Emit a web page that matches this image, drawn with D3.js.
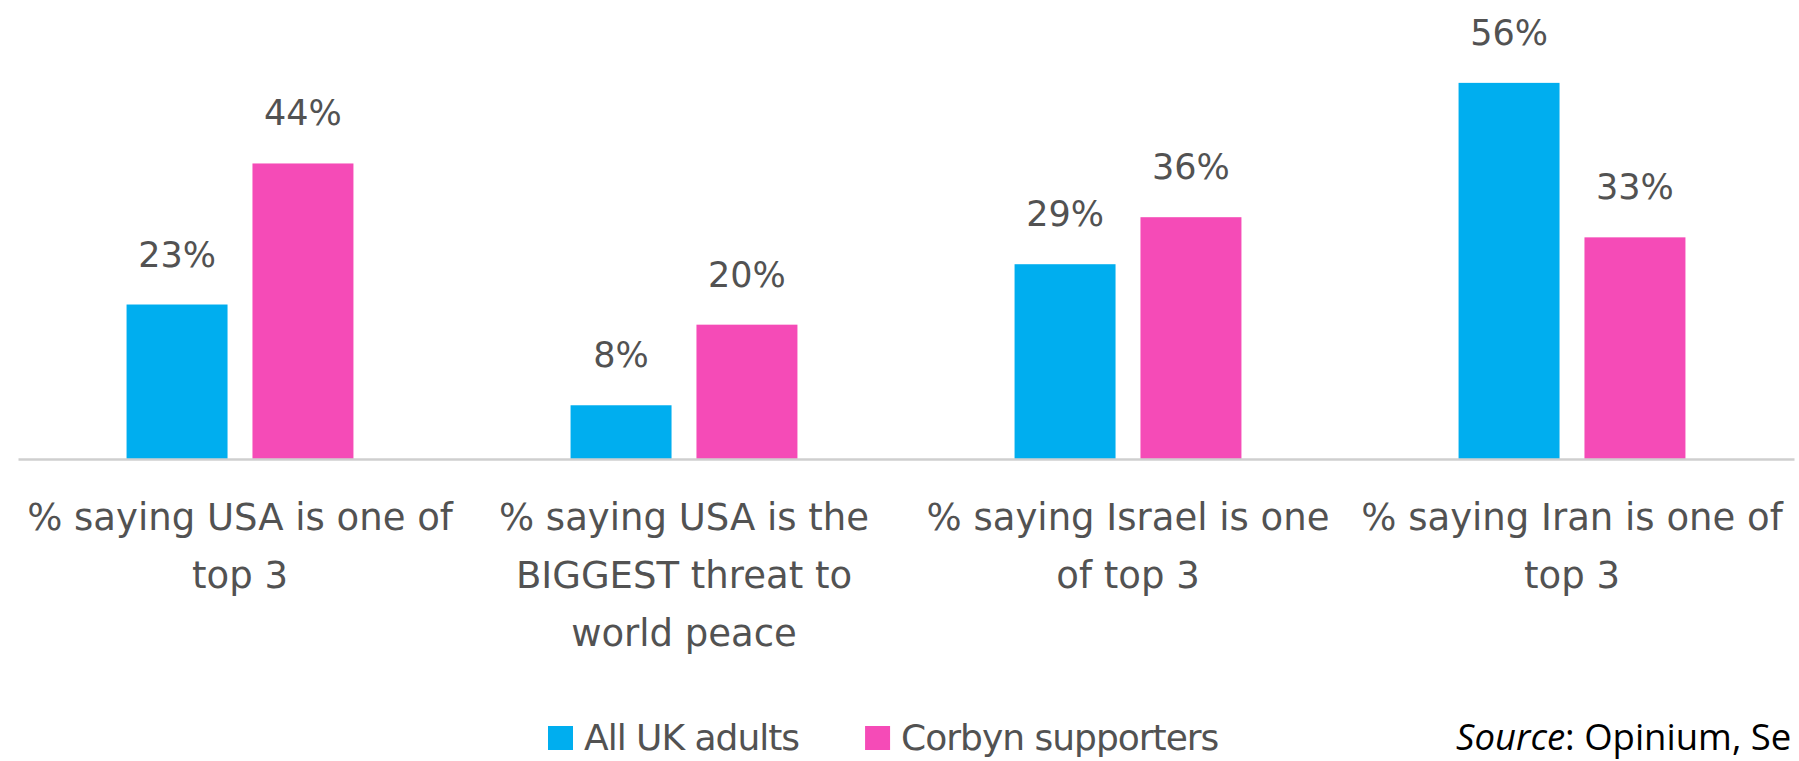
<!DOCTYPE html>
<html>
<head>
<meta charset="utf-8">
<script src="https://cdn.jsdelivr.net/npm/d3@7"></script>
<style>
  html, body { margin: 0; padding: 0; background: #ffffff; overflow: hidden; }
  svg { display: block; }
</style>
</head>
<body>
<script>
// ---- data ----
const categories = [
  "% saying USA is one of\ntop 3",
  "% saying USA is the\nBIGGEST threat to\nworld peace",
  "% saying Israel is one\nof top 3",
  "% saying Iran is one of\ntop 3"
];
const seriesNames = ["All UK adults", "Corbyn supporters"];
const allUkAdults = [23, 8, 29, 56];
const corbynSupporters = [44, 20, 36, 33];
const seriesColors = ["#00AEEF", "#F54BB7"];
const sourceLabel = { italic: "Source", rest: ": Opinium, Se" };

// ---- layout ----
const W = 1799, H = 761;
const svg = d3.select("body").append("svg").attr("width", W).attr("height", H);

const x0 = d3.scaleBand().domain(categories).range([18, 1794])
  .paddingInner(0.489).paddingOuter(0.2445);
const x1 = d3.scaleBand().domain(seriesNames).range([0, x0.bandwidth()])
  .paddingInner(0.198).paddingOuter(0);
const y = d3.scaleLinear().domain([0, 60]).range([459, 56]);
const color = d3.scaleOrdinal().domain(seriesNames).range(seriesColors);

const rows = categories.map((c, i) => ({
  cat: c,
  vals: [
    { key: seriesNames[0], v: allUkAdults[i] },
    { key: seriesNames[1], v: corbynSupporters[i] }
  ]
}));

const labelFont = "'DejaVu Sans', sans-serif";
const textColor = "#525252";

// bars
const groups = svg.append("g").selectAll("g").data(rows).join("g")
  .attr("transform", d => `translate(${x0(d.cat)},0)`);

groups.selectAll("rect").data(d => d.vals).join("rect")
  .attr("x", d => x1(d.key))
  .attr("width", x1.bandwidth())
  .attr("y", d => y(d.v))
  .attr("height", d => y(0) - y(d.v))
  .attr("fill", d => color(d.key));

groups.selectAll("text.val").data(d => d.vals).join("text")
  .attr("class", "val")
  .attr("x", d => x1(d.key) + x1.bandwidth() / 2)
  .attr("y", d => y(d.v) - 38)
  .attr("text-anchor", "middle")
  .attr("font-family", labelFont)
  .attr("font-size", 35)
  .attr("fill", textColor)
  .text(d => d.v + "%");

// x axis
const xAxis = svg.append("g")
  .attr("transform", `translate(0,${y(0)})`)
  .call(d3.axisBottom(x0).tickSize(0).tickSizeOuter(0).tickFormat(""));
xAxis.select(".domain").attr("stroke", "#cfcfcf").attr("stroke-width", 2.5);

xAxis.selectAll(".tick").each(function (d) {
  const t = d3.select(this).append("text")
    .attr("text-anchor", "middle")
    .attr("font-family", labelFont)
    .attr("font-size", 37)
    .attr("fill", textColor)
    .attr("y", 0);
  d.split("\n").forEach((line, i) => {
    t.append("tspan").attr("x", 0).attr("y", 71 + i * 58).text(line);
  });
});

// legend
const legend = svg.append("g").attr("transform", "translate(548,750)");
let lx = 0;
seriesNames.forEach((name, i) => {
  const g = legend.append("g").attr("transform", `translate(${lx},0)`);
  g.append("rect").attr("x", 0).attr("y", -24).attr("width", 25).attr("height", 24)
    .attr("fill", color(name));
  const t = g.append("text").attr("x", 36).attr("y", 0)
    .attr("font-family", labelFont).attr("font-size", 36)
    .attr("letter-spacing", -1)
    .attr("fill", textColor).text(name);
  lx += 36 + t.node().getComputedTextLength() + 66;
});

// source
const src = svg.append("text").attr("x", 1456).attr("y", 750)
  .attr("font-family", "'Open Sans', sans-serif").attr("font-size", 36.5)
  .attr("fill", "#000");
src.append("tspan").attr("font-style", "italic").text(sourceLabel.italic);
src.append("tspan").text(sourceLabel.rest);
</script>
</body>
</html>
